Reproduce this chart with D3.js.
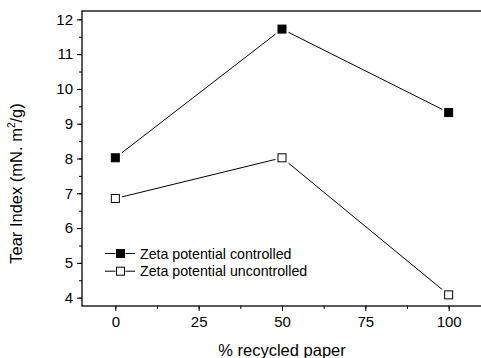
<!DOCTYPE html>
<html>
<head>
<meta charset="utf-8">
<script src="https://cdn.jsdelivr.net/npm/d3@7"></script>
<style>
  body { margin: 0; background: #fff; }
  svg { display: block; font-family: "Liberation Sans", Arial, sans-serif; }
</style>
</head>
<body>
<script>
const recycled = [0, 50, 100];
const controlled = [8.02, 11.72, 9.32];
const uncontrolled = [6.85, 8.02, 4.08];
const xTicks = [0, 25, 50, 75, 100];
const yTicks = [4, 5, 6, 7, 8, 9, 10, 11, 12];
const seriesNames = ['Zeta potential controlled', 'Zeta potential uncontrolled'];

const width = 481, height = 358;
const margin = { top: 11, right: -1, bottom: 52, left: 82 };
const font = '"Liberation Sans", Arial, sans-serif';

const x = d3.scaleLinear()
    .domain([-10, 110])
    .range([margin.left, width - margin.right]);

const y = d3.scaleLinear()
    .domain([3.76, 12.24])
    .range([height - margin.bottom, margin.top]);

const svg = d3.create('svg')
    .attr('width', width)
    .attr('height', height);

// frame
svg.append('rect')
    .attr('x', x(-10)).attr('y', y(12.24))
    .attr('width', x(110) - x(-10)).attr('height', y(3.76) - y(12.24))
    .attr('fill', 'none').attr('stroke', '#000').attr('stroke-width', 1.3);

const xMinor = d3.range(0, 112.5, 12.5).filter(v => v < 110);
const yMinor = d3.range(4, 12.01, 0.5);

const x_axis = d3.axisBottom(x).tickValues(xTicks).tickSize(5).tickPadding(5).tickFormat(d3.format('d'));
const y_axis = d3.axisLeft(y).tickValues(yTicks).tickSize(5).tickPadding(4).tickFormat(d3.format('d'));

const gx = svg.append('g')
    .attr('transform', `translate(0,${y(3.76)})`);
gx.call(d3.axisBottom(x).tickValues(xMinor).tickSize(3).tickFormat(''));
gx.append('g')
    .call(x_axis)
    .attr('font-size', 15)
    .attr('font-family', font);

const gy = svg.append('g')
    .attr('transform', `translate(${x(-10)},0)`);
gy.call(d3.axisLeft(y).tickValues(yMinor).tickSize(3).tickFormat(''));
gy.append('g')
    .call(y_axis)
    .attr('font-size', 15)
    .attr('font-family', font);

svg.selectAll('.domain').remove();
svg.selectAll('.tick line').attr('stroke', '#000').attr('stroke-width', 1);
svg.selectAll('.tick text').attr('fill', '#000');

// series
const series = [
    { name: seriesNames[0], values: controlled, fill: '#000' },
    { name: seriesNames[1], values: uncontrolled, fill: '#fff' }
];

const line = d3.line()
    .x(d => x(d[0]))
    .y(d => y(d[1]));

series.forEach(s => {
    const pts = recycled.map((r, i) => [r, s.values[i]]);
    svg.append('path')
        .attr('d', line(pts))
        .attr('fill', 'none')
        .attr('stroke', '#000')
        .attr('stroke-width', 1);
    const g = svg.append('g');
    g.selectAll('rect.halo')
        .data(pts)
        .join('rect')
        .attr('class', 'halo')
        .attr('x', d => x(d[0]) - 6.5).attr('y', d => y(d[1]) - 6.5)
        .attr('width', 13).attr('height', 13)
        .attr('fill', '#fff');
    g.selectAll('rect.mark')
        .data(pts)
        .join('rect')
        .attr('class', 'mark')
        .attr('x', d => x(d[0]) - 4).attr('y', d => y(d[1]) - 4)
        .attr('width', 8).attr('height', 8)
        .attr('fill', s.fill)
        .attr('stroke', '#000')
        .attr('stroke-width', 1);
});

// legend
const legend = svg.append('g')
    .attr('transform', 'translate(105,253.5)');
series.forEach((s, i) => {
    const row = legend.append('g').attr('transform', `translate(0,${i * 17.7})`);
    row.append('line').attr('x1', 0).attr('x2', 30).attr('y1', 0).attr('y2', 0)
        .attr('stroke', '#000').attr('stroke-width', 1);
    row.append('rect').attr('x', 10.5).attr('y', -5).attr('width', 10).attr('height', 10)
        .attr('fill', '#fff');
    row.append('rect').attr('x', 11.5).attr('y', -4).attr('width', 8).attr('height', 8)
        .attr('fill', s.fill).attr('stroke', '#000').attr('stroke-width', 1);
    row.append('text').attr('x', 35).attr('y', 5)
        .style('font-size', '14.2px').text(s.name);
});

// axis titles
svg.append('text')
    .attr('x', x(50)).attr('y', 355.5)
    .attr('text-anchor', 'middle')
    .style('font-size', '16.5px')
    .text('% recycled paper');

const yt = svg.append('text')
    .attr('transform', `translate(22,183.5) rotate(-90)`)
    .attr('text-anchor', 'middle')
    .style('font-size', '16.5px');
yt.append('tspan').text('Tear Index (mN. m');
yt.append('tspan').style('font-size', '10px').attr('dy', -7).text('2');
yt.append('tspan').attr('dy', 7).text('/g)');

document.querySelector('body').appendChild(svg.node());
</script>
</body>
</html>
